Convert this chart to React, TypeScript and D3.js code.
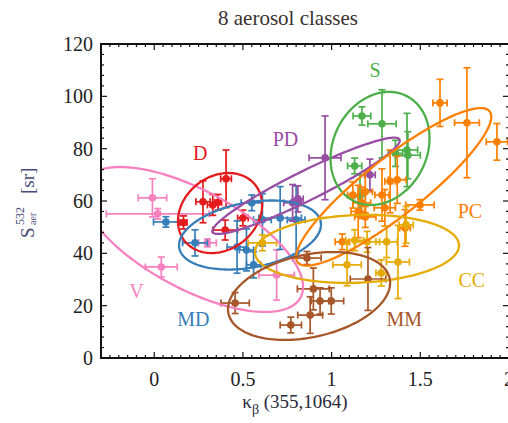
import React, { useEffect, useRef } from 'react';
import * as d3 from 'd3';

// class order, colours
const classNames = ['V', 'D', 'MD', 'PD', 'S', 'PC', 'CC', 'MM'];
const classColors: Record<string, string> = {
  V: '#f781bf', D: '#e41a1c', MD: '#377eb8', PD: '#984ea3',
  S: '#4daf4a', PC: '#ff7f00', CC: '#e6ab02', MM: '#a65628'
};

// points: [kappa, S, kappa err, S err]
const pointsV = [[-0.01, 61.2, 0.08, 7.3], [0.02, 55.1, 0.29, 2], [0.04, 34.8, 0.09, 3.8], [0.30, 44.0, 0.05, 1.5], [0.69, 31.7, 0.10, 9.6]];
const pointsD = [[0.405, 68.5, 0.03, 11], [0.275, 59.7, 0.04, 8], [0.33, 58.5, 0.03, 4], [0.165, 51.8, 0.02, 2.5], [0.40, 48.9, 0.07, 3.8], [0.50, 53.5, 0.03, 3], [0.36, 59.5, 0.02, 3]];
const pointsMD = [[0.066, 52.0, 0.07, 2], [0.23, 44.0, 0.07, 5], [0.467, 42.4, 0.056, 10], [0.52, 41.3, 0.04, 8], [0.56, 35.6, 0.04, 5], [0.71, 53.5, 0.12, 12], [0.61, 52.8, 0.05, 10], [0.80, 52.8, 0.05, 13], [0.55, 59.3, 0.06, 3]];
const pointsPD = [[0.78, 59.3, 0.05, 7], [0.81, 60.8, 0.03, 5], [0.963, 76.5, 0.09, 16], [1.216, 70.0, 0.03, 6]];
const pointsS = [[1.171, 92.5, 0.05, 3.5], [1.284, 89.5, 0.08, 13], [1.425, 79.5, 0.06, 14], [1.43, 77.5, 0.07, 9], [1.36, 78.2, 0.04, 5], [1.13, 73.4, 0.04, 3], [1.16, 62.0, 0.03, 8]];
const pointsPC = [[1.611, 97.5, 0.04, 9], [1.763, 89.9, 0.07, 21], [1.932, 82.6, 0.06, 7], [1.498, 58.5, 0.08, 2], [1.414, 49.7, 0.03, 7], [1.37, 68.1, 0.05, 9], [1.284, 62.3, 0.04, 10], [1.19, 63.5, 0.04, 8], [1.17, 59.3, 0.05, 6], [1.12, 62.3, 0.03, 5], [1.19, 53.9, 0.06, 4], [1.30, 57.4, 0.06, 7], [1.06, 44.4, 0.04, 3], [1.15, 56.0, 0.04, 10], [1.33, 67.5, 0.03, 12]];
const pointsCC = [[1.42, 50.9, 0.04, 7], [1.374, 36.7, 0.065, 14], [1.28, 32.5, 0.03, 5], [1.087, 35.6, 0.08, 8], [1.20, 44.4, 0.07, 4], [1.31, 44.4, 0.06, 6], [0.61, 44.0, 0.08, 3], [1.13, 45.0, 0.05, 4]];
const pointsMM = [[0.861, 38.2, 0.08, 2.5], [0.897, 26.4, 0.09, 8], [0.935, 21.8, 0.05, 5], [0.998, 21.8, 0.07, 5], [0.879, 16.4, 0.07, 7], [0.77, 12.6, 0.06, 3], [0.456, 21.0, 0.08, 4], [1.205, 30.2, 0.1, 12]];

const classPoints: Record<string, number[][]> = {
  V: pointsV, D: pointsD, MD: pointsMD, PD: pointsPD, S: pointsS, PC: pointsPC, CC: pointsCC, MM: pointsMM
};

// ellipses: [centre x, centre y, half extent x, half extent y, correlation]
const ellipseParams: Record<string, number[]> = {
  V: [0.216, 45.3, 0.623, 27.7, -0.656],
  D: [0.371, 55.4, 0.237, 15.3, 0.2],
  MD: [0.54, 47.0, 0.40, 13.2, 0.3],
  PD: [0.856, 65.8, 0.528, 18.4, 0.94],
  S: [1.273, 80.1, 0.279, 21.6, 0.18],
  PC: [1.35, 65.4, 0.55, 30.1, 0.89],
  CC: [1.143, 41.7, 0.575, 13.0, 0.1],
  MM: [0.873, 23.7, 0.457, 16.8, 0.3]
};

// class label positions
const labelPos: Record<string, number[]> = {
  V: [-0.1, 24.5], D: [0.26, 77.6], MD: [0.22, 13.8], PD: [0.74, 82.6],
  S: [1.245, 109], PC: [1.78, 55.4], CC: [1.79, 29], MM: [1.41, 13.8]
};

const xTicks = [0, 0.5, 1, 1.5, 2];
const yTicks = [0, 20, 40, 60, 80, 100, 120];

const App = () => {
  const ref = useRef<SVGSVGElement>(null);

  useEffect(() => {
    const width = 508, height = 423;
    const svg = d3.select(ref.current).attr('width', width).attr('height', height);
    svg.selectAll('*').remove();
    const font = '"Liberation Serif", "Times New Roman", serif';

    const x = d3.scaleLinear().domain([-0.3, 2.0]).range([101, 509]);
    const y = d3.scaleLinear().domain([0, 120]).range([358, 44]);

    svg.append('defs').append('clipPath').attr('id', 'plotclip')
      .append('rect').attr('x', x(-0.3)).attr('y', y(120)).attr('width', x(2) - x(-0.3)).attr('height', y(0) - y(120));

    const plot = svg.append('g').attr('clip-path', 'url(#plotclip)');

    // error bars + points
    classNames.forEach(c => {
      const col = classColors[c];
      const g = plot.append('g').attr('stroke', col).attr('fill', col).attr('stroke-width', 1.7);
      const cap = 3.5;
      classPoints[c].forEach(([px, py, ex, ey]) => {
        const cx = x(px), cy = y(py);
        const x0 = x(px - ex), x1 = x(px + ex), y0 = y(py - ey), y1 = y(py + ey);
        g.append('line').attr('x1', x0).attr('x2', x1).attr('y1', cy).attr('y2', cy);
        g.append('line').attr('x1', cx).attr('x2', cx).attr('y1', y0).attr('y2', y1);
        [x0, x1].forEach(v => g.append('line').attr('x1', v).attr('x2', v).attr('y1', cy - cap).attr('y2', cy + cap));
        [y0, y1].forEach(v => g.append('line').attr('x1', cx - cap).attr('x2', cx + cap).attr('y1', v).attr('y2', v));
        g.append('circle').attr('cx', cx).attr('cy', cy).attr('r', 3.8).attr('stroke', 'none');
      });
    });

    // ellipses
    const line = d3.line<number[]>().x(d => x(d[0])).y(d => y(d[1])).curve(d3.curveLinearClosed);
    classNames.forEach(c => {
      const [cx, cy, sx, sy, r] = ellipseParams[c];
      const pts = d3.range(0, 2 * Math.PI, Math.PI / 90).map(t => [
        cx + sx * Math.cos(t),
        cy + sy * (r * Math.cos(t) + Math.sqrt(1 - r * r) * Math.sin(t))
      ]);
      plot.append('path').attr('d', line(pts)).attr('fill', 'none')
        .attr('stroke', classColors[c]).attr('stroke-width', 2.3);
    });

    // class labels
    classNames.forEach(c => {
      const [lx, ly] = labelPos[c];
      svg.append('text').attr('x', x(lx)).attr('y', y(ly)).attr('text-anchor', 'middle')
        .attr('dominant-baseline', 'middle').attr('font-family', font).attr('font-size', 20)
        .attr('fill', classColors[c]).text(c);
    });

    // frame + ticks
    const axes = svg.append('g').attr('stroke', '#111');
    axes.append('rect').attr('x', x(-0.3)).attr('y', y(120)).attr('width', x(2) - x(-0.3)).attr('height', y(0) - y(120))
      .attr('fill', 'none').attr('stroke-width', 2);
    const xMinor = d3.range(-0.3, 2.0001, 0.05);
    xMinor.forEach(v => {
      const major = xTicks.some(t => Math.abs(t - v) < 1e-6);
      const len = major ? 6 : 3;
      axes.append('line').attr('x1', x(v)).attr('x2', x(v)).attr('y1', y(0)).attr('y2', y(0) - len).attr('stroke-width', 1.2);
      axes.append('line').attr('x1', x(v)).attr('x2', x(v)).attr('y1', y(120)).attr('y2', y(120) + len).attr('stroke-width', 1.2);
    });
    const yMinor = d3.range(0, 120.001, 4);
    yMinor.forEach(v => {
      const major = v % 20 === 0;
      const len = major ? 6 : 3;
      axes.append('line').attr('x1', x(-0.3)).attr('x2', x(-0.3) + len).attr('y1', y(v)).attr('y2', y(v)).attr('stroke-width', 1.2);
      axes.append('line').attr('x1', x(2)).attr('x2', x(2) - len).attr('y1', y(v)).attr('y2', y(v)).attr('stroke-width', 1.2);
    });

    // tick labels (the last x label sits at the window edge, partly cut as in the original)
    svg.selectAll('.xtl').data(xTicks).join('text').attr('class', 'xtl')
      .attr('x', d => x(d)).attr('y', 386).attr('text-anchor', 'middle')
      .attr('font-family', font).attr('font-size', 20).attr('fill', '#222').text(d => String(d));
    svg.selectAll('.ytl').data(yTicks).join('text').attr('class', 'ytl')
      .attr('x', 93).attr('y', d => y(d)).attr('text-anchor', 'end').attr('dominant-baseline', 'central')
      .attr('font-family', font).attr('font-size', 20).attr('fill', '#222').text(d => String(d));

    // title
    svg.append('text').attr('x', 288).attr('y', 25).attr('text-anchor', 'middle')
      .attr('font-family', font).attr('font-size', 21).attr('fill', '#3a3030').text('8 aerosol classes');

    // x label
    const xl = svg.append('text').attr('x', 295).attr('y', 408).attr('text-anchor', 'middle')
      .attr('font-family', font).attr('font-size', 19).attr('fill', '#2a2a3a');
    xl.append('tspan').text('κ');
    xl.append('tspan').attr('dy', 6).attr('font-size', 14).text('β');
    xl.append('tspan').attr('dy', -6).text(' (355,1064)');

    // y label
    const yl = svg.append('g').attr('transform', 'translate(34,200) rotate(-90)')
      .attr('font-family', font).attr('fill', '#4b4b7a');
    yl.append('text').attr('x', -38).attr('y', 0).attr('font-size', 19).text('S');
    yl.append('text').attr('x', -25).attr('y', -10).attr('font-size', 12).text('532');
    yl.append('text').attr('x', -25).attr('y', 2).attr('font-size', 10).text('aer');
    yl.append('text').attr('x', 6).attr('y', 0).attr('font-size', 19).text('[sr]');
  }, []);

  return (
    <div style={{ position: 'absolute', left: 0, top: 0 }}>
      <svg ref={ref}></svg>
    </div>
  );
};

export default App;
